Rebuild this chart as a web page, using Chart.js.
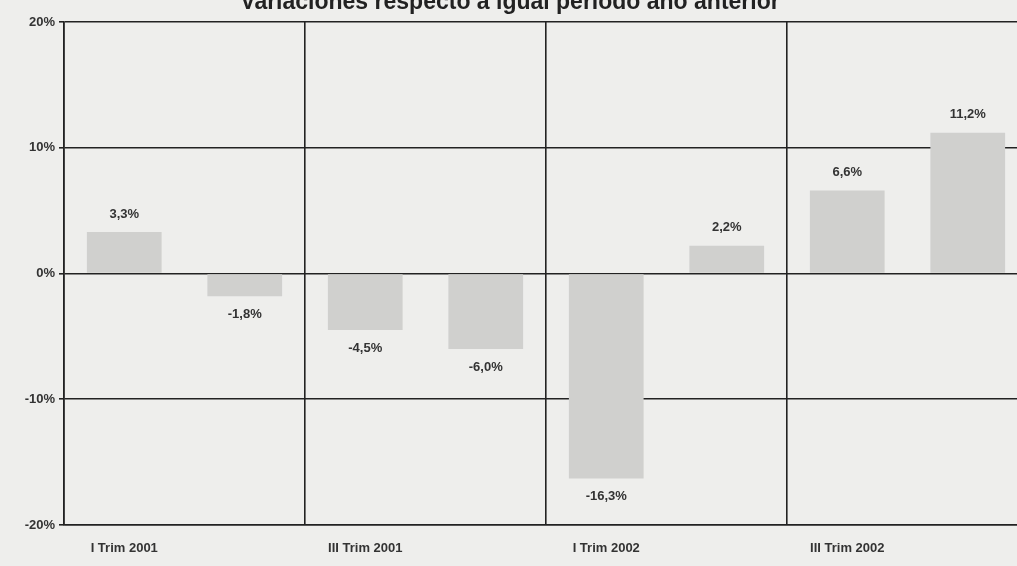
<!DOCTYPE html>
<html lang="es">
<head>
    <meta charset="UTF-8">
    <title>Variaciones respecto a igual período año anterior</title>
    <script src="https://cdn.jsdelivr.net/npm/chart.js"></script>
    <style>
        html, body { margin: 0; padding: 0; background: #eeeeec; overflow: hidden; }
        .chart-container { width: 1028px; height: 566px; position: relative; }
    </style>
</head>
<body>
<div class="chart-container">
    <canvas id="varChart"></canvas>
</div>
<script>
const titulo = 'Variaciones respecto a igual período año anterior';
const trimestres = ['I Trim 2001', 'II Trim 2001', 'III Trim 2001', 'IV Trim 2001',
                    'I Trim 2002', 'II Trim 2002', 'III Trim 2002', 'IV Trim 2002'];
const variaciones = [3.3, -1.8, -4.5, -6.0, -16.3, 2.2, 6.6, 11.2];
const ejeY = [-20, -10, 0, 10, 20];

const fuente = 'Arial, "Liberation Sans", sans-serif';
const fmt = v => v.toFixed(1).replace('.', ',') + '%';

// etiquetas de valor y título dibujados a mano
const etiquetas = {
    id: 'etiquetas',
    afterDatasetsDraw(chart) {
        const ctx = chart.ctx;
        const meta = chart.getDatasetMeta(0);
        ctx.save();
        ctx.font = 'bold 13px ' + fuente;
        ctx.fillStyle = '#333';
        ctx.textAlign = 'center';
        ctx.textBaseline = 'middle';
        meta.data.forEach((bar, i) => {
            const v = variaciones[i];
            const y = v >= 0 ? bar.y - 18 : bar.y + 18;
            ctx.fillText(fmt(v), bar.x, y);
        });
        ctx.font = 'bold 23px ' + fuente;
        ctx.fillStyle = '#222';
        ctx.fillText(titulo, 510, 3);
        ctx.restore();
    }
};

const ctx = document.getElementById('varChart').getContext('2d');
new Chart(ctx, {
    type: 'bar',
    data: {
        labels: trimestres,
        datasets: [{
            data: variaciones,
            backgroundColor: '#d0d0ce',
            borderWidth: 0,
            barPercentage: 0.62,
            categoryPercentage: 1.0
        }]
    },
    options: {
        responsive: true,
        maintainAspectRatio: false,
        animation: false,
        layout: { padding: { top: 22, right: 0, left: 0, bottom: 0 } },
        plugins: {
            legend: { display: false },
            tooltip: { enabled: false }
        },
        scales: {
            x: {
                offset: true,
                afterFit: s => { s.height = 41; },
                grid: {
                    offset: true,
                    color: c => (c.index % 2 === 0 ? '#222' : 'rgba(0,0,0,0)'),
                    lineWidth: 1.6,
                    drawTicks: false
                },
                border: { color: '#222', width: 1.6 },
                ticks: {
                    autoSkip: false,
                    maxRotation: 0,
                    padding: 16,
                    color: '#333',
                    font: { family: fuente, size: 13, weight: 'bold' },
                    callback: (v, i) => (i % 2 === 0 ? trimestres[i] : '')
                }
            },
            y: {
                min: ejeY[0],
                max: ejeY[ejeY.length - 1],
                afterFit: s => { s.width = 64; },
                afterBuildTicks: s => { s.ticks = ejeY.map(v => ({ value: v })); },
                grid: {
                    color: '#222',
                    lineWidth: 1.6,
                    tickLength: 5
                },
                border: { color: '#222', width: 1.6 },
                ticks: {
                    padding: 4,
                    color: '#333',
                    font: { family: fuente, size: 13, weight: 'bold' },
                    callback: v => v + '%'
                }
            }
        }
    },
    plugins: [etiquetas]
});
</script>
</body>
</html>
